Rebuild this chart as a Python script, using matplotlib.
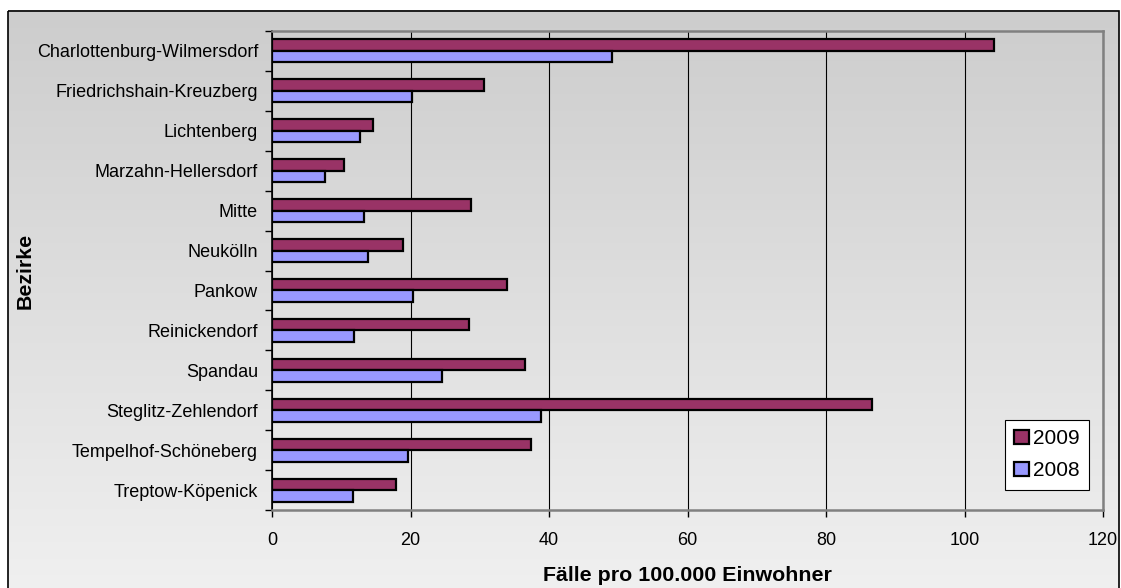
import numpy as np
import matplotlib
matplotlib.use("Agg")
import matplotlib.pyplot as plt
from matplotlib.patches import Rectangle

plt.rcParams['font.family'] = ['Liberation Sans', 'DejaVu Sans']

bezirke = ['Charlottenburg-Wilmersdorf', 'Friedrichshain-Kreuzberg', 'Lichtenberg',
           'Marzahn-Hellersdorf', 'Mitte', 'Neukölln', 'Pankow', 'Reinickendorf',
           'Spandau', 'Steglitz-Zehlendorf', 'Tempelhof-Schöneberg', 'Treptow-Köpenick']
faelle_2009 = [104.3, 30.6, 14.6, 10.4, 28.7, 18.9, 34.0, 28.4, 36.5, 86.7, 37.4, 17.9]
faelle_2008 = [49.1, 20.2, 12.7, 7.6, 13.3, 13.8, 20.3, 11.9, 24.5, 38.9, 19.7, 11.7]
x_ticks = [0, 20, 40, 60, 80, 100, 120]

W, H = 1121, 588
fig = plt.figure(figsize=(W / 100, H / 100), dpi=100)

# Hintergrund: weisser Rand, grauer Verlauf, schwarzer Rahmen
bg = fig.add_axes([0, 0, 1, 1], zorder=-10)
bg.set_xlim(0, W)
bg.set_ylim(H, 0)
bg.axis('off')
grad = np.linspace(205, 240, 300).reshape(-1, 1) / 255.0
bg.imshow(np.dstack([grad, grad, grad]), extent=(8, 1119, H + 5, 10.7),
          aspect='auto', interpolation='bilinear')
bg.add_patch(Rectangle((8, 10.7), 1111, 600, fill=False, edgecolor='black', linewidth=1.2))

ax = fig.add_axes([272 / W, (H - 510) / H, 831 / W, 479 / H])
ax.set_facecolor('none')

y = np.arange(len(bezirke))
h = 0.288
ax.barh(y - h / 2, faelle_2009, height=h, color='#993366', edgecolor='black',
        linewidth=1.6, label='2009', zorder=3)
ax.barh(y + h / 2, faelle_2008, height=h, color='#9999FF', edgecolor='black',
        linewidth=1.6, label='2008', zorder=3)

ax.set_xlim(0, 120)
ax.set_ylim(len(bezirke) - 0.5, -0.5)
ax.set_xticks(x_ticks)
ax.set_xticklabels([str(t) for t in x_ticks])
ax.set_yticks(y)
ax.set_yticklabels(bezirke)
ax.set_yticks(np.arange(-0.5, len(bezirke)), minor=True)

ax.tick_params(axis='y', which='major', length=0, pad=10, labelsize=13)
ax.tick_params(axis='y', which='minor', length=5, width=1, direction='out', color='black')
ax.tick_params(axis='x', length=5, width=1, direction='out', pad=11, labelsize=13, color='black')

ax.grid(axis='x', color='black', linewidth=0.8, zorder=0)
ax.set_axisbelow(True)

for side in ['top', 'right', 'bottom']:
    ax.spines[side].set_color('#808080')
    ax.spines[side].set_linewidth(1.8)
ax.spines['left'].set_color('black')
ax.spines['left'].set_linewidth(1.2)

ax.set_xlabel('Fälle pro 100.000 Einwohner', fontsize=15.4, fontweight='bold', labelpad=12)
ax.set_ylabel('Bezirke', fontsize=15.4, fontweight='bold', va='center')
ax.yaxis.set_label_coords((25 - 272) / 831, 0.5)

leg = ax.legend(loc='upper left', bbox_to_anchor=(0.882, 0.188), borderaxespad=0,
                fontsize=15, fancybox=False, framealpha=1, edgecolor='black',
                handlelength=0.7, handleheight=0.7, handletextpad=0.2,
                borderpad=0.45, labelspacing=0.62)
leg.get_frame().set_linewidth(0.8)

fig.savefig('out.png', dpi=100)
